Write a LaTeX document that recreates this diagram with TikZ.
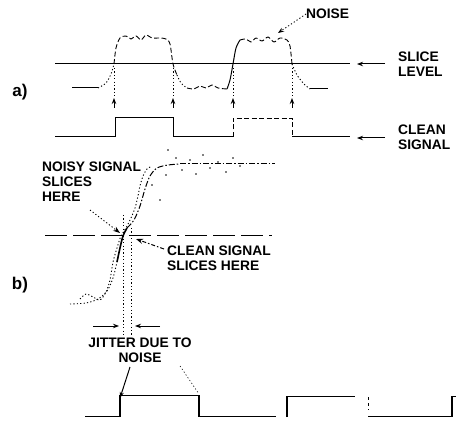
\documentclass[tikz,border=0pt]{standalone}
\usepackage{fontspec}
\setmainfont{Liberation Sans}
\usetikzlibrary{arrows.meta}
\begin{document}
\begin{tikzpicture}[x=1pt,y=-1pt,
  lbl/.style={font=\fontsize{13.8}{15}\selectfont\bfseries, align=left, inner sep=0pt},
  part/.style={font=\fontsize{17}{17}\selectfont\bfseries, inner sep=0pt},
  sig/.style={line width=1pt},
  noisy/.style={line width=0.9pt, dash pattern=on 5pt off 2.5pt},
  dots/.style={line width=0.9pt, dash pattern=on 1.2pt off 2.2pt},
  tip/.style={-{Stealth[length=6pt,width=4.5pt]}, line width=1pt}]
  \useasboundingbox (0,0) rectangle (458,422);

  %% Part labels
  \node[part] (pa) at (20,92) {a)};
  \node[part] (pb) at (20,285) {b)};

  %% ---------------- a) ----------------
  %% Slice level and clean signal references
  \draw[sig] (55,64) -- (350,64);
  \coordinate (slA) at (385,64);  \coordinate (slB) at (357,64);
  \draw[tip] (slA) -- (slB);
  \node[lbl, anchor=west] (slice) at (398,64) {SLICE\\LEVEL};
  \coordinate (csA) at (385,138); \coordinate (csB) at (357,138);
  \draw[tip] (csA) -- (csB);
  \node[lbl, anchor=west] (clean) at (398,137) {CLEAN\\SIGNAL};

  %% Noisy input signal
  \draw[sig] (72,88) -- (98,88);
  \draw[dots] plot[smooth] coordinates {(98,88) (106,83) (111,74) (114,64)};
  \draw[noisy] plot[smooth] coordinates {(114,64) (116,48) (120,38) (126,36) (131,39)
    (136,36) (141,40) (146,35) (152,38) (160,38) (166,39) (170,44) (173,64) (177,75)};
  \draw[dots] plot[smooth] coordinates {(177,75) (181,83) (187,88)};
  \draw[noisy] plot[smooth] coordinates {(187,88) (194,89) (200,86) (206,88) (212,85)
    (218,88) (227,89)};
  \draw[sig] plot[smooth] coordinates {(227,89) (230,80) (233,64) (236,48) (240,40)};
  \draw[noisy] plot[smooth] coordinates {(240,40) (246,39) (251,42) (256,38) (262,41)
    (268,37) (274,42) (280,38) (287,40) (290,46) (292,64)};
  \draw[dots] plot[smooth] coordinates {(292,64) (297,75) (304,84) (310,89)};
  \draw[sig] (310,89) -- (328,89);

  %% Slice points projected down
  \foreach \x in {114,173,233,292}{
    \draw[dots] (\x,68) -- (\x,98);
    \draw[tip] (\x,108) -- (\x,98);
  }

  %% Clean output signal
  \draw[sig] (55,137) -- (115,137) -- (115,118) -- (173,118) -- (173,137) -- (233,137);
  \draw[noisy] (233,137) -- (233,118) -- (292,118) -- (292,137);
  \draw[sig] (292,137) -- (350,137);

  %% Noise annotation
  \node[lbl, anchor=west] (noise) at (306,14) {NOISE};
  \coordinate (nz) at (278,33);
  \draw[dots, -{Stealth[length=6pt,width=4.5pt]}] (noise.west) -- (nz);

  %% ---------------- b) ----------------
  \draw[sig, dash pattern=on 22pt off 6pt] (45,236) -- (272,236);

  %% Clean signal edge
  \draw[dots] plot[smooth] coordinates {(70,304) (86,303) (98,299) (107,291) (113,278) (117,262)};
  \draw[line width=1.6pt] plot[smooth] coordinates {(117,262) (120,248) (123,236) (127,228)};
  \draw[sig, dash pattern=on 6pt off 2pt on 1.5pt off 2pt] plot[smooth] coordinates {(127,228)
    (134,220) (140,206) (145,189) (150,176) (157,168) (168,165) (180,164)};
  \draw[sig, dash pattern=on 6pt off 2pt on 1.5pt off 2pt] (180,164) -- (275,164);

  %% Noisy signal edge
  \draw[dots] plot[smooth] coordinates {(80,299) (86,294) (93,297) (100,300) (106,292)
    (110,280) (113,262) (117,248) (121,236) (126,228) (131,218) (135,208) (138,196)
    (140,186) (143,176) (147,169) (152,166)};
  \foreach \x/\y in {176/158,182/170,190/160,196/174,203/155,210/168,218/162,226/172,
    233/158,240/166,166/175,160/200,152/185,168/150}{
    \fill (\x,\y) circle (0.9pt);
  }

  %% Jitter window
  \draw[dots] (123,215) -- (123,335);
  \draw[dots] (131,228) -- (131,335);
  \coordinate (jlA) at (93,326);  \coordinate (jlB) at (119,326);
  \coordinate (jrA) at (160,326); \coordinate (jrB) at (135,326);
  \draw[tip] (jlA) -- (jlB);
  \draw[tip] (jrA) -- (jrB);
  \node[lbl, align=center] (jitter) at (140,350) {JITTER DUE TO\\NOISE};

  %% Slice annotations
  \node[lbl, anchor=west] (nss) at (42,182) {NOISY SIGNAL\\SLICES\\HERE};
  \coordinate (nsA) at (90,210); \coordinate (nsB) at (120,233);
  \draw[dots, -{Stealth[length=7pt,width=5pt]}] (nsA) -- (nsB);
  \node[lbl, anchor=west] (css) at (167,258) {CLEAN SIGNAL\\SLICES HERE};
  \coordinate (csS) at (164,249); \coordinate (csC) at (136,239);
  \draw[sig, dash pattern=on 4pt off 2pt on 1.5pt off 2pt, -{Stealth[length=7pt,width=5pt]}] (csS) -- (csC);

  %% Sliced output with jitter
  \draw[sig] (85,416) -- (120,416);
  \draw[line width=2pt] (120,417) -- (120,395);
  \draw[sig] (120,395) -- (198,395);
  \draw[line width=1.8pt] (199,395) -- (199,417);
  \draw[sig] (199,416) -- (276,416);
  \draw[line width=1.8pt] (287,417) -- (287,396);
  \draw[sig] (287,396) -- (355,396);
  \draw[sig, dash pattern=on 3pt off 3pt] (368,397) -- (368,410);
  \draw[sig] (368,416) -- (451,416);
  \draw[line width=1.8pt] (452,417) -- (452,396);
  \draw[sig] (452,396) -- (456,396);
  \coordinate (jA) at (130,367); \coordinate (jB) at (120,398);
  \draw[sig, -{Stealth[length=6pt,width=4pt]}] (jA) -- (jB);
  \coordinate (jC) at (180,366); \coordinate (jD) at (199,394);
  \draw[dots, line width=0.6pt] (jC) -- (jD);
\end{tikzpicture}
\end{document}
